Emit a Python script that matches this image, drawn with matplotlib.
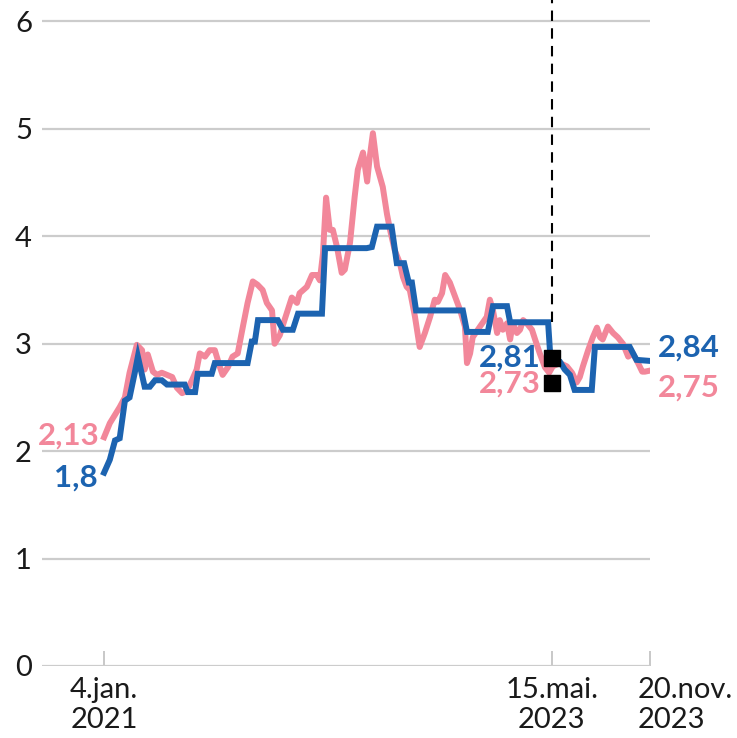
import numpy as np
import matplotlib
matplotlib.use("Agg")
import matplotlib.pyplot as plt
import matplotlib.transforms as mtransforms

plt.rcParams['font.family'] = ['Lato', 'DejaVu Sans']

# dates are given as days after 4 Jan 2021
start = np.datetime64('2021-01-04')

pink_days = [0, 11, 30, 40, 49, 63, 73, 78, 84, 94, 102, 111, 121, 131, 140, 150,
             159, 169, 178, 184, 194, 203, 213, 223, 228, 238, 247, 257, 267, 276,
             286, 295, 305, 313, 323, 328, 338, 347, 361, 371, 376, 390, 400, 409,
             415, 421, 427, 434, 440, 448, 457, 463, 473, 482, 488, 498, 506, 511,
             517, 525, 536, 544, 550, 559, 569, 575, 582, 588, 598, 607, 617, 627,
             636, 642, 650, 656, 665, 675, 685, 694, 698, 704, 709, 723, 736, 742,
             748, 756, 761, 767, 775, 781, 786, 794, 800, 806, 813, 823, 829, 838,
             848, 856, 863, 877, 890, 900, 909, 915, 921, 931, 940, 948, 954, 959,
             969, 979, 988, 998, 1008, 1017, 1027, 1035, 1040, 1050]
pink_vals = [2.13, 2.26, 2.41, 2.50, 2.73, 2.99, 2.94, 2.76, 2.90, 2.74, 2.71, 2.73,
             2.71, 2.69, 2.59, 2.54, 2.56, 2.66, 2.76, 2.91, 2.88, 2.94, 2.94, 2.78,
             2.71, 2.78, 2.88, 2.91, 3.16, 3.38, 3.58, 3.55, 3.50, 3.38, 3.31, 3.00,
             3.08, 3.22, 3.43, 3.38, 3.47, 3.53, 3.64, 3.64, 3.59, 3.84, 4.36, 4.06,
             4.06, 3.90, 3.66, 3.69, 3.94, 4.37, 4.62, 4.78, 4.51, 4.74, 4.96, 4.65,
             4.46, 4.21, 4.06, 3.87, 3.75, 3.62, 3.53, 3.50, 3.25, 2.97, 3.10, 3.25,
             3.41, 3.39, 3.47, 3.64, 3.57, 3.44, 3.31, 3.16, 2.82, 2.91, 3.06, 3.16,
             3.25, 3.41, 3.31, 3.10, 3.22, 3.13, 3.19, 3.04, 3.19, 3.10, 3.13, 3.22,
             3.19, 3.13, 3.04, 2.91, 2.78, 2.73, 2.79, 2.82, 2.79, 2.73, 2.64, 2.69,
             2.79, 2.94, 3.06, 3.15, 3.06, 3.04, 3.16, 3.10, 3.06, 3.00, 2.88, 2.91,
             2.82, 2.74, 2.74, 2.75]

blue_days = [0, 11, 21, 30, 40, 49, 59, 65, 78, 88, 98, 111, 121, 155, 161, 175,
             180, 207, 213, 276, 284, 290, 296, 334, 344, 363, 373, 419, 425, 505,
             515, 525, 553, 563, 577, 586, 592, 600, 690, 698, 738, 748, 775, 781,
             854, 859, 877, 886, 896, 905, 938, 944, 1011, 1024, 1050]
blue_vals = [1.80, 1.92, 2.10, 2.12, 2.47, 2.50, 2.73, 2.88, 2.60, 2.60, 2.66, 2.66,
             2.62, 2.62, 2.55, 2.55, 2.72, 2.72, 2.82, 2.82, 3.02, 3.02, 3.22, 3.22,
             3.13, 3.13, 3.28, 3.28, 3.89, 3.89, 3.90, 4.09, 4.09, 3.75, 3.75, 3.57,
             3.57, 3.31, 3.31, 3.11, 3.11, 3.35, 3.35, 3.20, 3.20, 2.83, 2.83, 2.76,
             2.71, 2.57, 2.57, 2.97, 2.97, 2.85, 2.84]

marker_day = 861  # 15 May 2023
marker_vals = [2.87, 2.63]
marker_texts = ['2,81', '2,73']

tick_dates = ['2021-01-04', '2023-05-15', '2023-11-20']
tick_labels = ['4.jan.\n2021', '15.mai.\n2023', '20.nov.\n2023']

PINK = '#f2879a'
BLUE = '#1c63b0'
GRID = '#cccccc'

pink_x = start + np.array(pink_days, dtype='timedelta64[D]')
blue_x = start + np.array(blue_days, dtype='timedelta64[D]')
mark_x = start + np.timedelta64(marker_day, 'D')

fig = plt.figure(figsize=(7.37, 7.38), dpi=100)
ax = fig.add_axes([41.7 / 737, 72 / 738, 608.3 / 737, 666 / 738])

ax.plot(pink_x, pink_vals, color=PINK, lw=4.3, solid_joinstyle='round', zorder=3)
ax.plot(blue_x, blue_vals, color=BLUE, lw=4.3, solid_joinstyle='miter', zorder=4)

# dashed marker line
ax.plot([mark_x, mark_x], [3.2, 6.3], color='black', lw=1.5,
        dashes=(5, 3.5), zorder=2)
ax.plot([mark_x, mark_x], marker_vals, ls='none', marker='s', ms=11.5,
        color='black', zorder=5)

ax.set_xlim(start - np.timedelta64(120, 'D'), np.datetime64('2023-11-20'))
ax.set_ylim(0, 6.2)

ax.set_yticks(range(7))
ax.set_yticklabels([str(i) for i in range(7)])
ax.yaxis.grid(True, color=GRID, lw=1.6)
ax.set_axisbelow(True)
ax.tick_params(axis='y', length=0, pad=7, labelsize=21, labelcolor='#1a1a1a')

ax.set_xticks([np.datetime64(d) for d in tick_dates])
ax.set_xticklabels(tick_labels, linespacing=1.2)
ax.tick_params(axis='x', direction='in', length=11, width=1.4, color='#c8c8c8',
               pad=8, labelsize=21, labelcolor='#1a1a1a')
last = ax.get_xticklabels()[-1]
last.set_ha('left')
last.set_multialignment('left')
last.set_transform(last.get_transform() +
                   mtransforms.ScaledTranslation(-12 / 100, 0, fig.dpi_scale_trans))

for s in ax.spines.values():
    s.set_visible(False)

bold = dict(fontsize=22.5, fontweight='bold', textcoords='offset pixels', va='center')
ax.annotate('2,13', (pink_x[0], pink_vals[0]), xytext=(-4, 2), ha='right',
            color=PINK, **bold)
ax.annotate('1,8', (blue_x[0], blue_vals[0]), xytext=(-6, -5), ha='right',
            color=BLUE, **bold)
ax.annotate('2,84', (blue_x[-1], blue_vals[-1]), xytext=(8, 13), ha='left',
            color=BLUE, **bold)
ax.annotate('2,75', (pink_x[-1], pink_vals[-1]), xytext=(8, -17), ha='left',
            color=PINK, **bold)
ax.annotate(marker_texts[0], (mark_x, marker_vals[0]), xytext=(-11, 0), ha='right',
            color=BLUE, **bold)
ax.annotate(marker_texts[1], (mark_x, marker_vals[1]), xytext=(-11, 0), ha='right',
            color=PINK, **bold)

fig.savefig('out.png', dpi=100)
